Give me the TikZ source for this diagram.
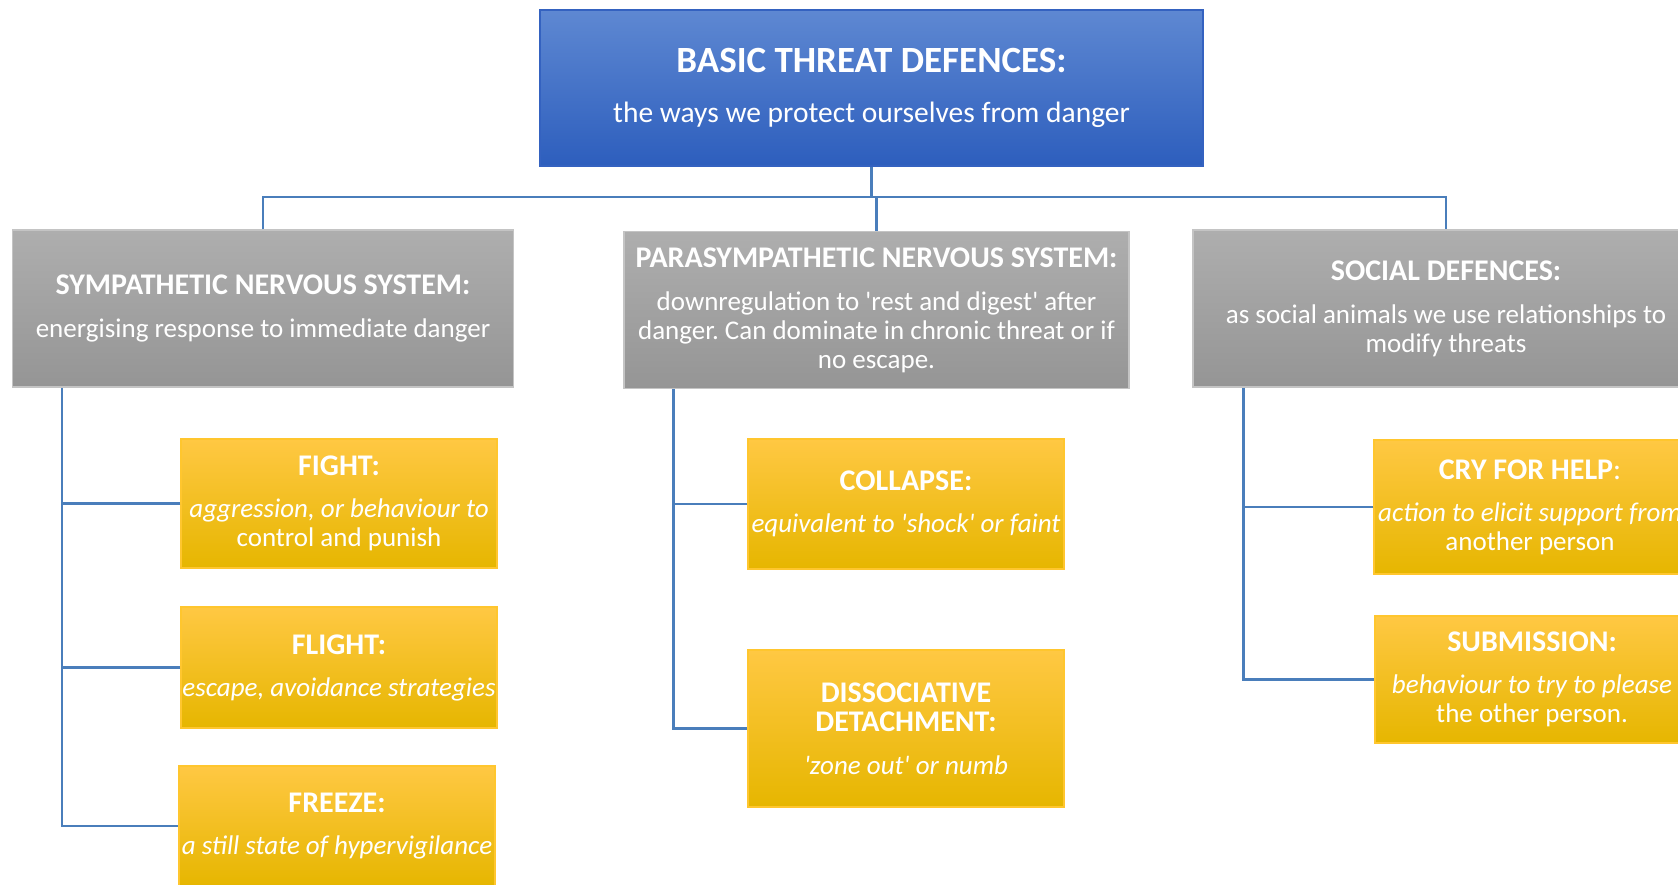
\documentclass[tikz,border=0pt]{standalone}
\usepackage{fontspec}
\setmainfont{Carlito}
\frenchspacing

\definecolor{bluetop}{HTML}{5E88D2}
\definecolor{bluebot}{HTML}{2D5EBD}
\definecolor{blueedge}{HTML}{3462C0}
\definecolor{graytop}{HTML}{AEAEAE}
\definecolor{graybot}{HTML}{959595}
\definecolor{grayedge}{HTML}{C4C4C4}
\definecolor{yellowtop}{HTML}{FFC843}
\definecolor{yellowmid}{HTML}{FFC20A}
\definecolor{yellowbot}{HTML}{E6B600}
\definecolor{yellowedge}{HTML}{FFC62E}
\definecolor{linkblue}{HTML}{4A7EBB}

\newcommand{\heading}[1]{{\fontsize{30}{34}\selectfont\bfseries #1}}

\tikzset{
  box/.style={text=white, align=center, inner sep=0pt, font=\fontsize{27}{29}\selectfont},
  headbox/.style={box, draw=blueedge, line width=1.5pt, top color=bluetop, bottom color=bluebot},
  sysbox/.style={box, draw=grayedge, line width=1.5pt, top color=graytop, bottom color=graybot, minimum height=157pt},
  defbox/.style={box, draw=yellowedge, line width=1.5pt, top color=yellowtop, middle color=yellowmid, bottom color=yellowbot, minimum width=316pt},
  link/.style={draw=linkblue, line width=2.5pt}
}

\begin{document}
\begin{tikzpicture}[x=1pt, y=-1pt]
  \fill[white] (0,0) rectangle (1678,884);
  \useasboundingbox (0,0) rectangle (1678,884);
  \clip (0,0) rectangle (1678,884);

  % top of the tree
  \node[headbox, minimum width=663pt, minimum height=156pt] (top) at (871.5,88)
    {{\fontsize{37}{40}\selectfont\bfseries BASIC THREAT DEFENCES:}\\[21pt]
     {\fontsize{29.5}{32}\selectfont the ways we protect ourselves from danger}};

  % the three systems
  \node[sysbox, minimum width=501pt] (sym) at (263,308.5)
    {\heading{SYMPATHETIC NERVOUS SYSTEM:}\\[14pt]
     energising response to immediate danger};
  \node[sysbox, minimum width=505pt] (para) at (876.5,310)
    {\heading{PARASYMPATHETIC NERVOUS SYSTEM:}\\[14pt]
     downregulation to \textquotesingle rest and digest\textquotesingle{} after\\
     danger. Can dominate in chronic threat or if\\
     no escape.};
  \node[sysbox, minimum width=506pt] (soc) at (1446,308.5)
    {\heading{SOCIAL DEFENCES:}\\[14pt]
     as social animals we use relationships to\\
     modify threats};

  % sympathetic responses
  \node[defbox, minimum height=129pt] (fight) at (339,503.5)
    {\heading{FIGHT:}\\[13pt]
     \itshape aggression, or behaviour to\\ control and punish};
  \node[defbox, minimum height=121pt] (flight) at (339,667.5)
    {\heading{FLIGHT:}\\[13pt]
     \itshape escape, avoidance strategies};
  \node[defbox, minimum height=120pt] (freeze) at (337,826)
    {\heading{FREEZE:}\\[13pt]
     \itshape a still state of hypervigilance};

  % parasympathetic responses
  \node[defbox, minimum height=130pt] (collapse) at (906,504)
    {\heading{COLLAPSE:}\\[13pt]
     \itshape equivalent to \textquotesingle shock\textquotesingle{} or faint};
  \node[defbox, minimum height=157pt] (dissoc) at (906,728.5)
    {\heading{DISSOCIATIVE}\\ \heading{DETACHMENT:}\\[14pt]
     \itshape\textquotesingle zone out\textquotesingle{} or numb};

  % social responses
  \node[defbox, minimum width=312pt, minimum height=134pt] (cry) at (1530,507)
    {\heading{CRY FOR HELP}{\fontsize{30}{34}\selectfont :}\\[13pt]
     \itshape action to elicit support from\\ another person};
  \node[defbox, minimum width=314pt, minimum height=127pt] (submit) at (1532,679.5)
    {\heading{SUBMISSION:}\\[13pt]
     \itshape behaviour to try to please\\ the other person.};

  % connectors from the top
  \coordinate (bus) at (0,197);
  \draw[link] (top.south) -- (top.south |- bus);
  \draw[link] (sym.north) |- (soc.north |- bus) -- (soc.north);
  \draw[link] (para.north) -- (para.north |- bus);

  % spines down each column
  \coordinate (symspine) at ([xshift=50pt]sym.south west);
  \coordinate (paraspine) at ([xshift=50pt]para.south west);
  \coordinate (socspine) at ([xshift=51pt]soc.south west);

  \draw[link] (symspine) |- (freeze.west);
  \draw[link] (fight.west) -- (fight.west -| symspine);
  \draw[link] (flight.west) -- (flight.west -| symspine);

  \draw[link] (paraspine) |- (dissoc.west);
  \draw[link] (collapse.west) -- (collapse.west -| paraspine);

  \draw[link] (socspine) |- (submit.west);
  \draw[link] (cry.west) -- (cry.west -| socspine);
\end{tikzpicture}
\end{document}
